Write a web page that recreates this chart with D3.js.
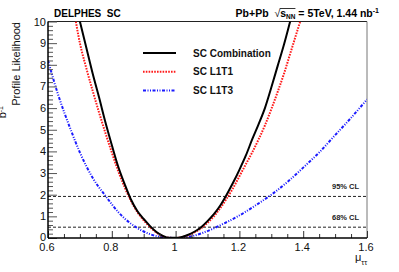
<!DOCTYPE html>
<html>
<head>
<meta charset="utf-8">
<script src="https://cdn.jsdelivr.net/npm/d3@7"></script>
<style>
  body { margin: 0; background: #fff; }
  svg { font-family: "Liberation Sans", Arial, Helvetica, sans-serif; }
</style>
</head>
<body>
<svg id="chart" width="399" height="272"></svg>
<script>
// values: mu_tautau vs -2 delta ln L
const combMu  = [0.69, 0.70, 0.72, 0.74, 0.76, 0.78, 0.80, 0.82, 0.84, 0.86, 0.88, 0.90, 0.92, 0.94, 0.96, 0.98, 1.00,
                 1.02, 1.04, 1.06, 1.08, 1.10, 1.12, 1.14, 1.16, 1.18, 1.20, 1.22, 1.24, 1.26, 1.28, 1.30, 1.32, 1.34, 1.36, 1.37];
const combVal = [10.6, 10.0, 8.8, 7.6, 6.5, 5.35, 4.3, 3.3, 2.5, 1.78, 1.25, 0.88, 0.55, 0.28, 0.1, 0.01, 0.01,
                 0.05, 0.15, 0.3, 0.5, 0.78, 1.1, 1.5, 2.0, 2.55, 3.15, 3.8, 4.55, 5.25, 6.0, 6.95, 7.95, 8.95, 10.05, 10.6];

const l1t1Mu  = [0.67, 0.68, 0.70, 0.72, 0.74, 0.76, 0.78, 0.80, 0.82, 0.84, 0.86, 0.88, 0.90, 0.92, 0.94, 0.96, 0.98, 1.00,
                 1.02, 1.04, 1.06, 1.08, 1.10, 1.12, 1.14, 1.16, 1.18, 1.20, 1.22, 1.24, 1.26, 1.28, 1.30, 1.32, 1.34, 1.36, 1.38, 1.40];
const l1t1Val = [11.4, 10.6, 9.0, 7.85, 6.8, 5.8, 4.85, 3.95, 3.1, 2.35, 1.72, 1.2, 0.82, 0.5, 0.25, 0.09, 0.01, 0.0,
                 0.04, 0.13, 0.27, 0.45, 0.7, 1.0, 1.38, 1.82, 2.3, 2.85, 3.4, 3.95, 4.55, 5.2, 5.95, 6.75, 7.6, 8.55, 9.5, 10.45];

const l1t3Mu  = [0.60, 0.63, 0.67, 0.70, 0.74, 0.78, 0.82, 0.86, 0.90, 0.95, 1.00, 1.05, 1.10, 1.15, 1.20, 1.25,
                 1.30, 1.35, 1.40, 1.45, 1.50, 1.55, 1.60];
const l1t3Val = [8.2, 6.7, 5.05, 3.95, 2.78, 1.95, 1.2, 0.66, 0.3, 0.06, 0.0, 0.08, 0.32, 0.66, 1.04, 1.5,
                 2.0, 2.58, 3.25, 3.95, 4.75, 5.55, 6.4];

const clLevels = [1.92, 0.5];
const clLabels = ["95% CL", "68% CL"];
const xTickValues = [0.6, 0.8, 1.0, 1.2, 1.4, 1.6];
const xTickLabels = ["0.6", "0.8", "1", "1.2", "1.4", "1.6"];
const yTickValues = [0, 1, 2, 3, 4, 5, 6, 7, 8, 9, 10];
const legendNames = ["SC Combination", "SC L1T1", "SC L1T3"];

const svg = d3.select("#chart");

const plotL = 48, plotR = 367, plotT = 21.5, plotB = 238;
const x = d3.scaleLinear().domain([0.6, 1.6]).range([plotL, plotR]);
const y = d3.scaleLinear().domain([0, 10]).range([plotB, plotT]);

svg.append("clipPath").attr("id", "frame")
    .append("rect")
    .attr("x", plotL).attr("y", plotT)
    .attr("width", plotR - plotL).attr("height", plotB - plotT);

// frame (top and right)
svg.append("line")
    .attr("x1", plotL).attr("x2", plotR).attr("y1", plotT).attr("y2", plotT)
    .attr("stroke", "#222").attr("stroke-width", 1);
svg.append("line")
    .attr("x1", plotR).attr("x2", plotR).attr("y1", plotT).attr("y2", plotB)
    .attr("stroke", "#777").attr("stroke-width", 1);

// confidence level lines
svg.selectAll(".cl")
    .data(clLevels)
    .enter()
    .append("line")
    .attr("class", "cl")
    .attr("x1", plotL).attr("x2", plotR)
    .attr("y1", d => y(d)).attr("y2", d => y(d))
    .attr("stroke", "#222")
    .attr("stroke-width", 1)
    .attr("stroke-dasharray", "3,2");

svg.selectAll(".cl-label")
    .data(clLevels)
    .enter()
    .append("text")
    .attr("class", "cl-label")
    .attr("x", 332)
    .attr("y", d => y(d) - 7)
    .attr("font-size", "7.5px")
    .attr("font-weight", "bold")
    .attr("fill", "#222")
    .text((d, i) => clLabels[i]);

// curves
const line = d3.line()
    .x(d => x(d[0]))
    .y(d => y(d[1]))
    .curve(d3.curveMonotoneX);

const series = [
    { mu: combMu, val: combVal, color: "#000", dash: null, width: 2 },
    { mu: l1t1Mu, val: l1t1Val, color: "#ff1a1a", dash: "1.6,1.2", width: 2 },
    { mu: l1t3Mu, val: l1t3Val, color: "#1a1aff", dash: "3,1.5,1,1.5,1,1.5", width: 2 }
];

const curves = svg.append("g").attr("clip-path", "url(#frame)");
series.slice().reverse().forEach(s => {
    curves.append("path")
        .datum(s.mu.map((m, i) => [m, s.val[i]]))
        .attr("d", line)
        .attr("fill", "none")
        .attr("stroke", s.color)
        .attr("stroke-width", s.width)
        .attr("stroke-dasharray", s.dash);
});

// axes
const xAxis = d3.axisBottom(x)
    .tickValues(d3.range(0.6, 1.6001, 0.05))
    .tickSize(-4)
    .tickFormat("");
const gx = svg.append("g").attr("transform", `translate(0,${plotB})`).call(xAxis);
gx.select(".domain").remove();
gx.selectAll(".tick line")
    .attr("stroke", "#333")
    .attr("y2", (d, i) => i % 4 === 0 ? -7 : -4);

svg.selectAll(".xlab")
    .data(xTickValues)
    .enter()
    .append("text")
    .attr("class", "xlab")
    .attr("x", d => x(d) - 1)
    .attr("y", 250.5)
    .attr("text-anchor", "middle")
    .attr("font-size", "11px")
    .attr("fill", "#111")
    .text((d, i) => xTickLabels[i]);

const yAxis = d3.axisLeft(y)
    .tickValues(d3.range(0, 10.0001, 0.2))
    .tickSize(-5)
    .tickFormat("");
const gy = svg.append("g").attr("transform", `translate(${plotL},0)`).call(yAxis);
gy.select(".domain").remove();
gy.selectAll(".tick line")
    .attr("stroke", "#555")
    .attr("x2", (d, i) => i % 5 === 0 ? 9 : 5);

svg.selectAll(".ylab")
    .data(yTickValues)
    .enter()
    .append("text")
    .attr("class", "ylab")
    .attr("x", 46)
    .attr("y", d => y(d) + (d === 0 ? 3 : 4))
    .attr("text-anchor", "end")
    .attr("font-size", "11px")
    .attr("fill", "#111")
    .text(d => d);

// axis lines
svg.append("line")
    .attr("x1", plotL).attr("x2", plotR).attr("y1", plotB).attr("y2", plotB)
    .attr("stroke", "#000").attr("stroke-width", 1.5);
svg.append("line")
    .attr("x1", plotL).attr("x2", plotL).attr("y1", plotT).attr("y2", plotB)
    .attr("stroke", "#000").attr("stroke-width", 1.5);

// axis titles
const xt = svg.append("text")
    .attr("x", 355)
    .attr("y", 261)
    .attr("font-size", "11px")
    .attr("fill", "#111");
xt.append("tspan").text("μ");
xt.append("tspan").attr("dy", 4).attr("font-size", "7.5px").text("ττ");

// y title: the first part is cut by the left edge of the picture
const yt1 = svg.append("text")
    .attr("transform", "translate(6,106) rotate(-90)")
    .attr("text-anchor", "end")
    .attr("font-size", "11px")
    .attr("fill", "#111");
yt1.append("tspan").text("b");
yt1.append("tspan").attr("dy", -3).attr("font-size", "7px").text("-1");

svg.append("text")
    .attr("transform", "translate(20,22) rotate(-90)")
    .attr("text-anchor", "end")
    .attr("font-size", "11px")
    .attr("fill", "#111")
    .text("Profile Likelihood");

// header texts
svg.append("text")
    .attr("x", 54)
    .attr("y", 17)
    .attr("font-size", "10px")
    .attr("font-weight", "bold")
    .attr("fill", "#000")
    .attr("xml:space", "preserve")
    .text("DELPHES  SC");

const hdr = svg.append("text")
    .attr("x", 379)
    .attr("y", 17)
    .attr("text-anchor", "end")
    .attr("font-size", "10.5px")
    .attr("font-weight", "bold")
    .attr("fill", "#000")
    .attr("xml:space", "preserve");
hdr.append("tspan").text("Pb+Pb  ");
hdr.append("tspan").attr("font-weight", "normal").text("√");
hdr.append("tspan").text("s");
hdr.append("tspan").attr("dy", 2).attr("font-size", "6.5px").text("NN");
hdr.append("tspan").attr("dy", -2).text(" = 5TeV, 1.44 nb");
hdr.append("tspan").attr("dy", -4).attr("font-size", "7px").text("-1");

// overline of the square root
const node = hdr.node();
const rootBox = node.getExtentOfChar(7);
const endBox = node.getExtentOfChar(10);
svg.append("line")
    .attr("x1", rootBox.x + rootBox.width - 0.5)
    .attr("x2", endBox.x + endBox.width)
    .attr("y1", rootBox.y + 1.5).attr("y2", rootBox.y + 1.5)
    .attr("stroke", "#000").attr("stroke-width", 0.8);

// legend
const legend = svg.append("g");
legend.selectAll(".leg-line")
    .data(series)
    .enter()
    .append("line")
    .attr("class", "leg-line")
    .attr("x1", 143).attr("x2", 176)
    .attr("y1", (d, i) => 53 + i * 18.8)
    .attr("y2", (d, i) => 53 + i * 18.8)
    .attr("stroke", d => d.color)
    .attr("stroke-width", d => d.width)
    .attr("stroke-dasharray", d => d.dash);

legend.selectAll(".leg-text")
    .data(legendNames)
    .enter()
    .append("text")
    .attr("class", "leg-text")
    .attr("x", 193)
    .attr("y", (d, i) => 56.5 + i * 18.8)
    .attr("font-size", "10px")
    .attr("font-weight", "bold")
    .attr("fill", "#111")
    .text(d => d);
</script>
</body>
</html>
